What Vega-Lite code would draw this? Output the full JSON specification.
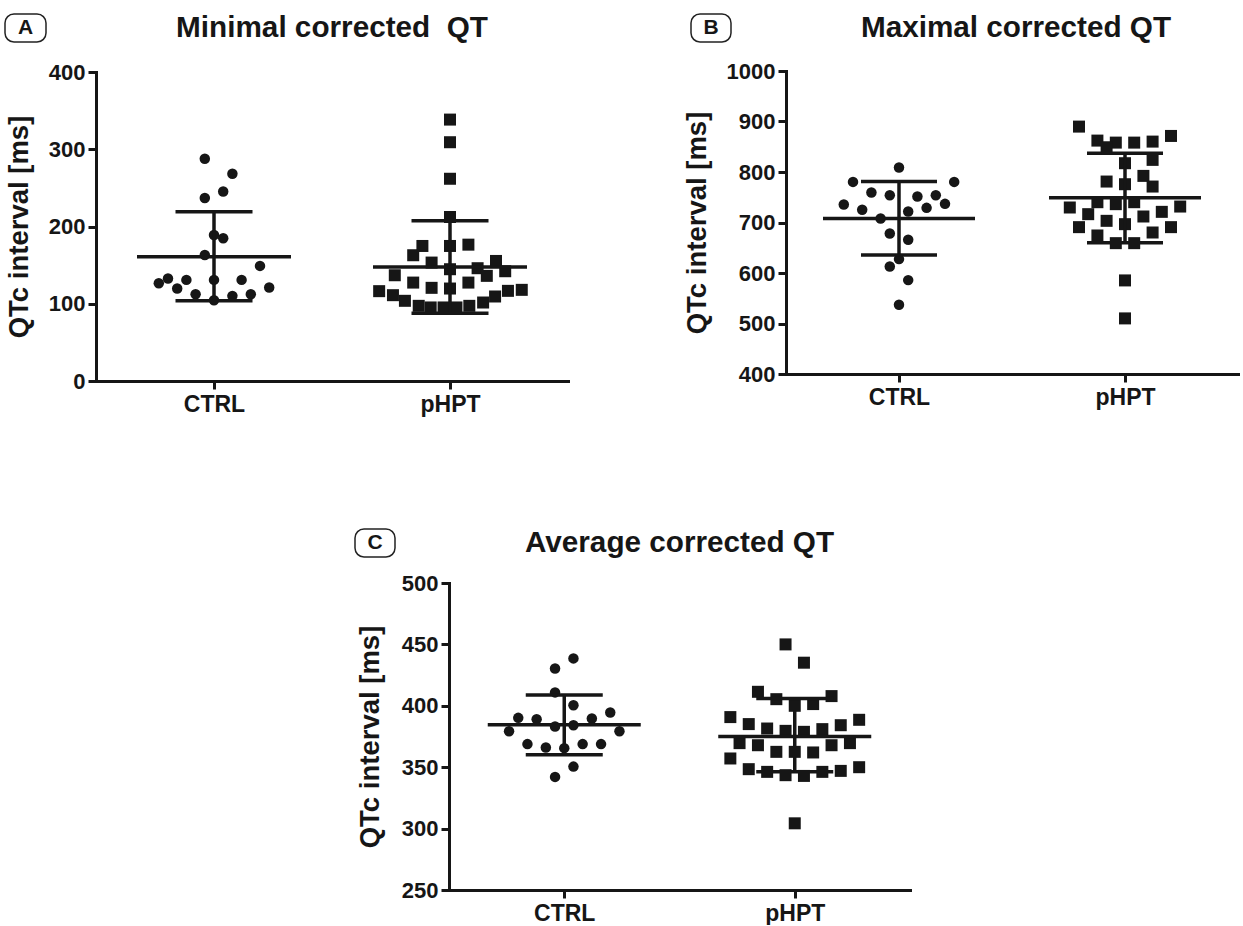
{
  "$schema": "https://vega.github.io/schema/vega-lite/v6.json",
  "padding": {"left": 4, "top": 13, "right": -19, "bottom": 0},
  "background": "white",
  "config": {
    "font": "Liberation Sans",
    "view": {"stroke": null},
    "axis": {"domainColor": "#161616", "domainWidth": 3, "domainCap": "square", "tickColor": "#161616", "tickWidth": 3, "tickSize": 8, "labelFont": "Liberation Sans", "labelFontWeight": "bold", "labelColor": "#161616", "titleFont": "Liberation Sans", "titleFontWeight": "bold", "titleColor": "#161616", "grid": false, "labelPadding": 3},
    "axisY": {"labelFontSize": 22, "titleFontSize": 27.5, "titlePadding": 15, "format": "d"},
    "axisX": {"labelFontSize": 23, "labelPadding": 4, "labelAngle": 0},
    "text": {"font": "Liberation Sans", "fontWeight": "bold", "color": "#161616"}
  },
  "datasets": {
    "minPts": [
      {"group": "CTRL", "value": 287.6, "slot": -1}, {"group": "CTRL", "value": 268.2, "slot": 2}, {"group": "CTRL", "value": 245.4, "slot": 1}, {"group": "CTRL", "value": 236.8, "slot": -1}, {"group": "CTRL", "value": 189.0, "slot": 0}, {"group": "CTRL", "value": 184.7, "slot": 1}, {"group": "CTRL", "value": 163.2, "slot": -1}, {"group": "CTRL", "value": 149.0, "slot": 5}, {"group": "CTRL", "value": 126.6, "slot": -6}, {"group": "CTRL", "value": 132.6, "slot": -5}, {"group": "CTRL", "value": 130.9, "slot": -3}, {"group": "CTRL", "value": 130.9, "slot": 0}, {"group": "CTRL", "value": 130.9, "slot": 3}, {"group": "CTRL", "value": 119.7, "slot": -4}, {"group": "CTRL", "value": 121.0, "slot": 6}, {"group": "CTRL", "value": 112.4, "slot": -2}, {"group": "CTRL", "value": 110.2, "slot": 2}, {"group": "CTRL", "value": 112.4, "slot": 4}, {"group": "CTRL", "value": 104.6, "slot": 0},
      {"group": "pHPT", "value": 338.4, "slot": 0}, {"group": "pHPT", "value": 309.1, "slot": 0}, {"group": "pHPT", "value": 261.8, "slot": 0}, {"group": "pHPT", "value": 212.3, "slot": 0}, {"group": "pHPT", "value": 174.8, "slot": -3}, {"group": "pHPT", "value": 162.8, "slot": -4}, {"group": "pHPT", "value": 174.8, "slot": 0}, {"group": "pHPT", "value": 176.5, "slot": 2}, {"group": "pHPT", "value": 153.3, "slot": -2}, {"group": "pHPT", "value": 155.4, "slot": 5}, {"group": "pHPT", "value": 146.0, "slot": 3}, {"group": "pHPT", "value": 144.7, "slot": 0}, {"group": "pHPT", "value": 142.1, "slot": 6}, {"group": "pHPT", "value": 136.9, "slot": -6}, {"group": "pHPT", "value": 136.1, "slot": 4}, {"group": "pHPT", "value": 127.4, "slot": -4}, {"group": "pHPT", "value": 127.4, "slot": 2}, {"group": "pHPT", "value": 120.6, "slot": -2}, {"group": "pHPT", "value": 119.7, "slot": 0}, {"group": "pHPT", "value": 116.3, "slot": -7.7}, {"group": "pHPT", "value": 116.7, "slot": 6.3}, {"group": "pHPT", "value": 118.0, "slot": 7.8}, {"group": "pHPT", "value": 111.1, "slot": -6.2}, {"group": "pHPT", "value": 109.4, "slot": 4.9}, {"group": "pHPT", "value": 103.8, "slot": -4.9}, {"group": "pHPT", "value": 101.6, "slot": 3.6}, {"group": "pHPT", "value": 97.3, "slot": -3.4}, {"group": "pHPT", "value": 95.2, "slot": -2.1}, {"group": "pHPT", "value": 95.2, "slot": -0.7}, {"group": "pHPT", "value": 95.2, "slot": 0.7}, {"group": "pHPT", "value": 97.3, "slot": 2.1}
    ],
    "minStats": [
      {"group": "CTRL", "mean": 161.0, "lo": 103.8, "hi": 219.0},
      {"group": "pHPT", "mean": 147.7, "lo": 87.8, "hi": 207.5}
    ],
    "maxPts": [
      {"group": "CTRL", "value": 808.8, "slot": 0}, {"group": "CTRL", "value": 780.4, "slot": -5}, {"group": "CTRL", "value": 780.4, "slot": 6}, {"group": "CTRL", "value": 759.4, "slot": -3}, {"group": "CTRL", "value": 754.1, "slot": -1}, {"group": "CTRL", "value": 751.4, "slot": 2}, {"group": "CTRL", "value": 754.1, "slot": 4}, {"group": "CTRL", "value": 735.6, "slot": -6}, {"group": "CTRL", "value": 736.9, "slot": 5}, {"group": "CTRL", "value": 725.1, "slot": -4}, {"group": "CTRL", "value": 729.0, "slot": 3}, {"group": "CTRL", "value": 721.7, "slot": 1}, {"group": "CTRL", "value": 707.9, "slot": -2}, {"group": "CTRL", "value": 678.2, "slot": -1}, {"group": "CTRL", "value": 665.7, "slot": 1}, {"group": "CTRL", "value": 627.5, "slot": 0}, {"group": "CTRL", "value": 613.0, "slot": -1}, {"group": "CTRL", "value": 585.9, "slot": 1}, {"group": "CTRL", "value": 537.1, "slot": 0},
      {"group": "pHPT", "value": 889.9, "slot": -5}, {"group": "pHPT", "value": 871.4, "slot": 5}, {"group": "pHPT", "value": 862.2, "slot": -3}, {"group": "pHPT", "value": 858.2, "slot": -1}, {"group": "pHPT", "value": 858.2, "slot": 1}, {"group": "pHPT", "value": 860.2, "slot": 3}, {"group": "pHPT", "value": 849.0, "slot": -2}, {"group": "pHPT", "value": 817.4, "slot": 0}, {"group": "pHPT", "value": 824.0, "slot": 3}, {"group": "pHPT", "value": 792.3, "slot": 2}, {"group": "pHPT", "value": 781.1, "slot": -2}, {"group": "pHPT", "value": 775.8, "slot": 0}, {"group": "pHPT", "value": 771.2, "slot": 3}, {"group": "pHPT", "value": 740.2, "slot": -3}, {"group": "pHPT", "value": 736.3, "slot": -1}, {"group": "pHPT", "value": 740.2, "slot": 1}, {"group": "pHPT", "value": 729.7, "slot": -6}, {"group": "pHPT", "value": 731.6, "slot": 6}, {"group": "pHPT", "value": 716.5, "slot": -4}, {"group": "pHPT", "value": 721.1, "slot": 4}, {"group": "pHPT", "value": 711.9, "slot": 2}, {"group": "pHPT", "value": 703.3, "slot": -2}, {"group": "pHPT", "value": 696.7, "slot": 0}, {"group": "pHPT", "value": 690.8, "slot": -5}, {"group": "pHPT", "value": 690.8, "slot": 5}, {"group": "pHPT", "value": 674.3, "slot": -3}, {"group": "pHPT", "value": 680.2, "slot": 3}, {"group": "pHPT", "value": 659.1, "slot": -1}, {"group": "pHPT", "value": 659.1, "slot": 1}, {"group": "pHPT", "value": 585.3, "slot": 0}, {"group": "pHPT", "value": 510.1, "slot": 0}
    ],
    "maxStats": [
      {"group": "CTRL", "mean": 708.0, "lo": 635.4, "hi": 781.0},
      {"group": "pHPT", "mean": 748.8, "lo": 659.8, "hi": 837.1}
    ],
    "avgPts": [
      {"group": "CTRL", "value": 438.6, "slot": 1}, {"group": "CTRL", "value": 430.4, "slot": -1}, {"group": "CTRL", "value": 410.9, "slot": -1}, {"group": "CTRL", "value": 400.5, "slot": 1}, {"group": "CTRL", "value": 394.6, "slot": 5}, {"group": "CTRL", "value": 390.2, "slot": -5}, {"group": "CTRL", "value": 389.1, "slot": -3}, {"group": "CTRL", "value": 389.7, "slot": 3}, {"group": "CTRL", "value": 383.2, "slot": -1}, {"group": "CTRL", "value": 384.2, "slot": 1}, {"group": "CTRL", "value": 379.3, "slot": -6}, {"group": "CTRL", "value": 379.3, "slot": 6}, {"group": "CTRL", "value": 368.8, "slot": -4}, {"group": "CTRL", "value": 366.0, "slot": -2}, {"group": "CTRL", "value": 365.5, "slot": 0}, {"group": "CTRL", "value": 368.8, "slot": 2}, {"group": "CTRL", "value": 368.8, "slot": 4}, {"group": "CTRL", "value": 350.5, "slot": 1}, {"group": "CTRL", "value": 342.1, "slot": -1},
      {"group": "pHPT", "value": 450.0, "slot": -1}, {"group": "pHPT", "value": 435.1, "slot": 1}, {"group": "pHPT", "value": 411.4, "slot": -4}, {"group": "pHPT", "value": 405.4, "slot": -2}, {"group": "pHPT", "value": 407.9, "slot": 4}, {"group": "pHPT", "value": 400.0, "slot": 0}, {"group": "pHPT", "value": 401.4, "slot": 2}, {"group": "pHPT", "value": 390.8, "slot": -7}, {"group": "pHPT", "value": 388.6, "slot": 7}, {"group": "pHPT", "value": 385.1, "slot": -5}, {"group": "pHPT", "value": 384.2, "slot": 5}, {"group": "pHPT", "value": 381.5, "slot": -3}, {"group": "pHPT", "value": 379.6, "slot": -1}, {"group": "pHPT", "value": 378.8, "slot": 1}, {"group": "pHPT", "value": 381.0, "slot": 3}, {"group": "pHPT", "value": 369.6, "slot": -6}, {"group": "pHPT", "value": 367.9, "slot": -4}, {"group": "pHPT", "value": 367.9, "slot": 4}, {"group": "pHPT", "value": 369.6, "slot": 6}, {"group": "pHPT", "value": 362.5, "slot": -2}, {"group": "pHPT", "value": 362.5, "slot": 0}, {"group": "pHPT", "value": 362.0, "slot": 2}, {"group": "pHPT", "value": 357.1, "slot": -7}, {"group": "pHPT", "value": 348.4, "slot": -5}, {"group": "pHPT", "value": 350.0, "slot": 7}, {"group": "pHPT", "value": 347.0, "slot": 5}, {"group": "pHPT", "value": 346.2, "slot": -3}, {"group": "pHPT", "value": 346.2, "slot": 3}, {"group": "pHPT", "value": 343.5, "slot": -1}, {"group": "pHPT", "value": 342.9, "slot": 1}, {"group": "pHPT", "value": 304.3, "slot": 0}
    ],
    "avgStats": [
      {"group": "CTRL", "mean": 384.5, "lo": 360.1, "hi": 408.7},
      {"group": "pHPT", "mean": 375.0, "lo": 346.2, "hi": 406.0}
    ]
  },
  "vconcat": [
    {
      "hconcat": [
        {
          "hconcat": [
            {"width": 41, "height": 28, "view": {"stroke": "#222222", "strokeWidth": 1.5, "cornerRadius": 9}, "data": {"values": [{"letter": "A"}]}, "mark": {"type": "text", "fontSize": 21}, "encoding": {"text": {"field": "letter", "type": "nominal"}}},
            {
              "vconcat": [
                {"width": 472, "height": 28, "data": {"values": [{"t": "Minimal corrected \u00a0QT"}]}, "mark": {"type": "text", "fontSize": 29.7}, "encoding": {"text": {"field": "t", "type": "nominal"}}},
                {
                  "width": 472, "height": 309,
                  "encoding": {"x": {"field": "group", "type": "nominal", "scale": {"type": "point", "padding": 0.5, "domain": ["CTRL", "pHPT"]}, "axis": {"title": null}}},
                  "layer": [
                    {"data": {"name": "minPts"}, "mark": {"type": "point", "filled": true, "opacity": 1, "color": "#161616"},
                     "encoding": {
                       "xOffset": {"field": "slot", "type": "quantitative", "scale": {"domain": [-10, 10], "range": [-92, 92]}},
                       "y": {"field": "value", "type": "quantitative", "title": "QTc interval [ms]", "scale": {"domain": [0, 400], "nice": false, "zero": false}, "axis": {"values": [0, 100, 200, 300, 400]}},
                       "shape": {"field": "group", "type": "nominal", "scale": {"domain": ["CTRL", "pHPT"], "range": ["circle", "square"]}, "legend": null},
                       "size": {"field": "group", "type": "nominal", "scale": {"domain": ["CTRL", "pHPT"], "range": [110, 144]}, "legend": null}
                     }},
                    {"data": {"name": "minStats"}, "mark": {"type": "rule", "strokeWidth": 3.5, "color": "#161616"}, "encoding": {"y": {"field": "lo", "type": "quantitative", "title": "QTc interval [ms]", "scale": {"domain": [0, 400], "nice": false, "zero": false}}, "y2": {"field": "hi"}}},
                    {"data": {"name": "minStats"}, "mark": {"type": "tick", "size": 154, "thickness": 3.5, "color": "#161616", "opacity": 1}, "encoding": {"y": {"field": "mean", "type": "quantitative", "title": "QTc interval [ms]", "scale": {"domain": [0, 400], "nice": false, "zero": false}}}},
                    {"data": {"name": "minStats"}, "mark": {"type": "tick", "size": 77, "thickness": 3.5, "color": "#161616", "opacity": 1}, "encoding": {"y": {"field": "lo", "type": "quantitative", "title": "QTc interval [ms]", "scale": {"domain": [0, 400], "nice": false, "zero": false}}}},
                    {"data": {"name": "minStats"}, "mark": {"type": "tick", "size": 77, "thickness": 3.5, "color": "#161616", "opacity": 1}, "encoding": {"y": {"field": "hi", "type": "quantitative", "title": "QTc interval [ms]", "scale": {"domain": [0, 400], "nice": false, "zero": false}}}}
                  ]
                }
              ],
              "spacing": 18
            }
          ],
          "spacing": -42
        },
        {
          "hconcat": [
            {"width": 40, "height": 28, "view": {"stroke": "#222222", "strokeWidth": 1.5, "cornerRadius": 9}, "data": {"values": [{"letter": "B"}]}, "mark": {"type": "text", "fontSize": 21}, "encoding": {"text": {"field": "letter", "type": "nominal"}}},
            {
              "vconcat": [
                {"width": 474, "height": 28, "data": {"values": [{"t": "Maximal corrected QT"}]}, "mark": {"type": "text", "fontSize": 29.7, "dx": -7}, "encoding": {"text": {"field": "t", "type": "nominal"}}},
                {
                  "width": 452, "height": 303,
                  "encoding": {"x": {"field": "group", "type": "nominal", "scale": {"type": "point", "padding": 0.5, "domain": ["CTRL", "pHPT"]}, "axis": {"title": null}}},
                  "layer": [
                    {"data": {"name": "maxPts"}, "mark": {"type": "point", "filled": true, "opacity": 1, "color": "#161616"},
                     "encoding": {
                       "xOffset": {"field": "slot", "type": "quantitative", "scale": {"domain": [-10, 10], "range": [-92, 92]}},
                       "y": {"field": "value", "type": "quantitative", "title": "QTc interval [ms]", "scale": {"domain": [400, 1000], "nice": false, "zero": false}, "axis": {"values": [400, 500, 600, 700, 800, 900, 1000]}},
                       "shape": {"field": "group", "type": "nominal", "scale": {"domain": ["CTRL", "pHPT"], "range": ["circle", "square"]}, "legend": null},
                       "size": {"field": "group", "type": "nominal", "scale": {"domain": ["CTRL", "pHPT"], "range": [110, 144]}, "legend": null}
                     }},
                    {"data": {"name": "maxStats"}, "mark": {"type": "rule", "strokeWidth": 3.5, "color": "#161616"}, "encoding": {"y": {"field": "lo", "type": "quantitative", "title": "QTc interval [ms]", "scale": {"domain": [400, 1000], "nice": false, "zero": false}}, "y2": {"field": "hi"}}},
                    {"data": {"name": "maxStats"}, "mark": {"type": "tick", "size": 152, "thickness": 3.5, "color": "#161616", "opacity": 1}, "encoding": {"y": {"field": "mean", "type": "quantitative", "title": "QTc interval [ms]", "scale": {"domain": [400, 1000], "nice": false, "zero": false}}}},
                    {"data": {"name": "maxStats"}, "mark": {"type": "tick", "size": 76, "thickness": 3.5, "color": "#161616", "opacity": 1}, "encoding": {"y": {"field": "lo", "type": "quantitative", "title": "QTc interval [ms]", "scale": {"domain": [400, 1000], "nice": false, "zero": false}}}},
                    {"data": {"name": "maxStats"}, "mark": {"type": "tick", "size": 76, "thickness": 3.5, "color": "#161616", "opacity": 1}, "encoding": {"y": {"field": "hi", "type": "quantitative", "title": "QTc interval [ms]", "scale": {"domain": [400, 1000], "nice": false, "zero": false}}}}
                  ]
                }
              ],
              "spacing": 17
            }
          ],
          "spacing": -49
        }
      ],
      "spacing": 115
    },
    {
      "hconcat": [
        {"width": 40, "height": 28, "view": {"stroke": "#222222", "strokeWidth": 1.5, "cornerRadius": 9}, "data": {"values": [{"letter": "C"}]}, "mark": {"type": "text", "fontSize": 21}, "encoding": {"text": {"field": "letter", "type": "nominal"}}},
        {
          "vconcat": [
            {"width": 461, "height": 28, "data": {"values": [{"t": "Average corrected QT"}]}, "mark": {"type": "text", "fontSize": 29.7}, "encoding": {"text": {"field": "t", "type": "nominal"}}},
            {
              "width": 461, "height": 307,
              "encoding": {"x": {"field": "group", "type": "nominal", "scale": {"type": "point", "padding": 0.5, "domain": ["CTRL", "pHPT"]}, "axis": {"title": null}}},
              "layer": [
                {"data": {"name": "avgPts"}, "mark": {"type": "point", "filled": true, "opacity": 1, "color": "#161616"},
                 "encoding": {
                   "xOffset": {"field": "slot", "type": "quantitative", "scale": {"domain": [-10, 10], "range": [-92, 92]}},
                   "y": {"field": "value", "type": "quantitative", "title": "QTc interval [ms]", "scale": {"domain": [250, 500], "nice": false, "zero": false}, "axis": {"values": [250, 300, 350, 400, 450, 500], "titlePadding": 17}},
                   "shape": {"field": "group", "type": "nominal", "scale": {"domain": ["CTRL", "pHPT"], "range": ["circle", "square"]}, "legend": null},
                   "size": {"field": "group", "type": "nominal", "scale": {"domain": ["CTRL", "pHPT"], "range": [110, 144]}, "legend": null}
                 }},
                {"data": {"name": "avgStats"}, "mark": {"type": "rule", "strokeWidth": 3.5, "color": "#161616"}, "encoding": {"y": {"field": "lo", "type": "quantitative", "title": "QTc interval [ms]", "scale": {"domain": [250, 500], "nice": false, "zero": false}}, "y2": {"field": "hi"}}},
                {"data": {"name": "avgStats"}, "mark": {"type": "tick", "size": 153, "thickness": 3.5, "color": "#161616", "opacity": 1}, "encoding": {"y": {"field": "mean", "type": "quantitative", "title": "QTc interval [ms]", "scale": {"domain": [250, 500], "nice": false, "zero": false}}}},
                {"data": {"name": "avgStats"}, "mark": {"type": "tick", "size": 77, "thickness": 3.5, "color": "#161616", "opacity": 1}, "encoding": {"y": {"field": "lo", "type": "quantitative", "title": "QTc interval [ms]", "scale": {"domain": [250, 500], "nice": false, "zero": false}}}},
                {"data": {"name": "avgStats"}, "mark": {"type": "tick", "size": 77, "thickness": 3.5, "color": "#161616", "opacity": 1}, "encoding": {"y": {"field": "hi", "type": "quantitative", "title": "QTc interval [ms]", "scale": {"domain": [250, 500], "nice": false, "zero": false}}}}
              ]
            }
          ],
          "spacing": 14
        }
      ],
      "spacing": -40
    }
  ],
  "spacing": 112,
  "center": true
}
